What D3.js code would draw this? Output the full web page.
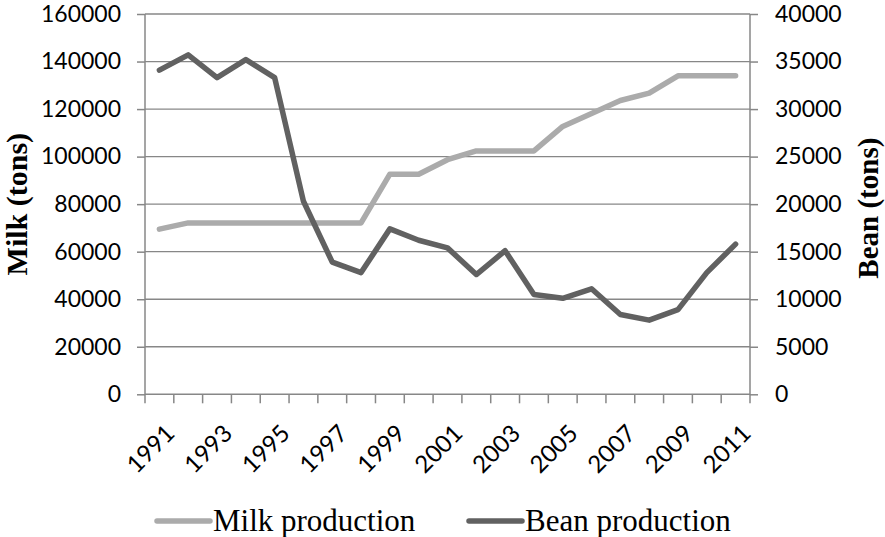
<!DOCTYPE html>
<html>
<head>
<meta charset="utf-8">
<script src="https://cdn.jsdelivr.net/npm/d3@7/dist/d3.min.js"></script>
<style>
  html, body { margin: 0; padding: 0; background: #fff; }
  svg { display: block; }
</style>
</head>
<body>
<svg id="chart" width="885" height="537"></svg>
<script>
// Annual production, 1991–2011
const years = d3.range(1991, 2012);
const milkTons = [69500, 72100, 72100, 72100, 72100, 72100, 72100, 72100, 92600, 92600,
                  98700, 102400, 102400, 102400, 112700, 118100, 123600, 126700, 134000, 134000, 134000];
const beanTons = [34100, 35700, 33300, 35200, 33300, 20300, 13900, 12800, 17400, 16200,
                  15400, 12600, 15100, 10500, 10100, 11100, 8400, 7800, 8900, 12800, 15800];
const milkTicks = [0, 20000, 40000, 60000, 80000, 100000, 120000, 140000, 160000];
const beanTicks = [0, 5000, 10000, 15000, 20000, 25000, 30000, 35000, 40000];
const yearLabels = years.filter((y, i) => i % 2 === 0);

const svg = d3.select("#chart");
const plot = { left: 145, right: 750, top: 14, bottom: 394.3 };
const gridColor = "#878787";
const milkColor = "#ababab";
const beanColor = "#616161";
const tickFont = "Lato, 'Open Sans', sans-serif";
const serif = "'Liberation Serif', 'DejaVu Serif', serif";

const x = d3.scaleBand().domain(years).range([plot.left, plot.right]).padding(0);
const yMilk = d3.scaleLinear().domain([0, 160000]).range([plot.bottom, plot.top]);
const yBean = d3.scaleLinear().domain([0, 40000]).range([plot.bottom, plot.top]);
const cx = d => x(d) + x.bandwidth() / 2;

// horizontal gridlines
svg.append("g").selectAll("line").data(milkTicks.slice(1)).join("line")
  .attr("x1", plot.left).attr("x2", plot.right)
  .attr("y1", d => yMilk(d)).attr("y2", d => yMilk(d))
  .attr("stroke", gridColor).attr("stroke-width", 1.3);

// left axis
const left = svg.append("g").attr("transform", `translate(${plot.left},0)`)
  .call(d3.axisLeft(yMilk).tickValues(milkTicks).tickFormat(d3.format("d")).tickSize(8).tickPadding(16));
// right axis
const right = svg.append("g").attr("transform", `translate(${plot.right},0)`)
  .call(d3.axisRight(yBean).tickValues(beanTicks).tickFormat(d3.format("d")).tickSize(8).tickPadding(17));
// bottom axis: ticks on category boundaries
const bottom = svg.append("g").attr("transform", `translate(0,${plot.bottom})`);
bottom.append("line").attr("x1", plot.left).attr("x2", plot.right)
  .attr("stroke", gridColor).attr("stroke-width", 1.5);
const bounds = years.map(d => x(d)).concat([plot.right]);
bottom.selectAll("line.tk").data(bounds).join("line").attr("class", "tk")
  .attr("x1", d => d).attr("x2", d => d).attr("y1", 0).attr("y2", 9)
  .attr("stroke", gridColor).attr("stroke-width", 1.5);
bottom.selectAll("text").data(yearLabels).join("text")
  .attr("transform", d => `translate(${cx(d) + 10},${34}) rotate(-45)`)
  .attr("text-anchor", "end")
  .attr("dominant-baseline", "central")
  .attr("font-family", tickFont).attr("font-size", 24).attr("fill", "#000")
  .text(d => d);

[left, right].forEach(g => {
  g.select(".domain").attr("stroke", gridColor).attr("stroke-width", 1.5);
  g.selectAll(".tick line").attr("stroke", gridColor).attr("stroke-width", 1.5);
  g.selectAll(".tick text").attr("font-family", tickFont).attr("font-size", 23).attr("fill", "#000");
});
left.select(".domain").attr("d", `M0,${plot.top}V${plot.bottom}`);
right.select(".domain").attr("d", `M0,${plot.top}V${plot.bottom}`);

// axis titles
svg.append("text")
  .attr("transform", `translate(27,${(plot.top + plot.bottom) / 2}) rotate(-90)`)
  .attr("text-anchor", "middle")
  .attr("font-family", serif).attr("font-weight", "bold").attr("font-size", 30)
  .text("Milk (tons)");
svg.append("text")
  .attr("transform", `translate(878,${(plot.top + plot.bottom) / 2 + 4}) rotate(-90)`)
  .attr("text-anchor", "middle")
  .attr("font-family", serif).attr("font-weight", "bold").attr("font-size", 29)
  .text("Bean (tons)");

// series lines
const milkLine = d3.line().x((d, i) => cx(years[i])).y(d => yMilk(d));
const beanLine = d3.line().x((d, i) => cx(years[i])).y(d => yBean(d));
svg.append("path").datum(milkTons).attr("d", milkLine)
  .attr("fill", "none").attr("stroke", milkColor).attr("stroke-width", 5.5)
  .attr("stroke-linejoin", "round").attr("stroke-linecap", "round");
svg.append("path").datum(beanTons).attr("d", beanLine)
  .attr("fill", "none").attr("stroke", beanColor).attr("stroke-width", 5.5)
  .attr("stroke-linejoin", "round").attr("stroke-linecap", "round");

// legend
const legend = [
  { name: "Milk production", color: milkColor, x: 157 },
  { name: "Bean production", color: beanColor, x: 469 }
];
const lg = svg.append("g").selectAll("g").data(legend).join("g")
  .attr("transform", d => `translate(${d.x},521)`);
lg.append("line").attr("x1", 0).attr("x2", 53)
  .attr("stroke", d => d.color).attr("stroke-width", 5.5).attr("stroke-linecap", "round");
lg.append("text").attr("x", 56).attr("y", 10)
  .attr("font-family", serif).attr("font-size", 31).attr("fill", "#000")
  .text(d => d.name);
</script>
</body>
</html>
